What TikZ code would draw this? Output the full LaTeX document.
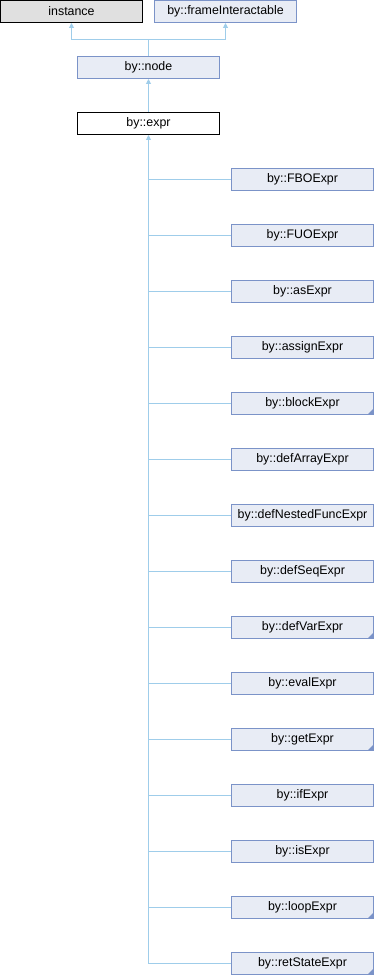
\documentclass[tikz,border=0pt]{standalone}
\usepackage{fontspec}
\setmainfont{Liberation Sans}
\usetikzlibrary{arrows.meta}
\definecolor{clsfill}{HTML}{E8ECF5}
\definecolor{clsdraw}{HTML}{7B93C8}
\definecolor{edgeclr}{HTML}{9FCDEA}
\definecolor{extfill}{HTML}{E0E0E0}
\begin{document}
\begin{tikzpicture}[
    x=1pt, y=-1pt,
    every node/.style={rectangle, minimum width=142pt, minimum height=22pt, inner sep=0pt, line width=1pt, font=\fontsize{12.4}{14}\selectfont},
    cls/.style={draw=clsdraw, fill=clsfill},
    clsmore/.style={cls, path picture={\fill[clsdraw] (path picture bounding box.south east) -- ++(-6pt,0) -- ++(6pt,6pt) -- cycle;}},
    extcls/.style={draw=black, fill=extfill},
    curcls/.style={draw=black, fill=white},
    edge/.style={draw=edgeclr, line width=1pt, -{Triangle[length=5pt,width=5pt]}},
    link/.style={draw=edgeclr, line width=1pt}
]
    \useasboundingbox (0,0) rectangle (375,976);
    \node[extcls] (instance) at (71.5,11.5) {instance};
    \node[cls] (frame) at (225.5,11.5) {by::frameInteractable};
    \node[cls] (node) at (148.5,67.5) {by::node};
    \node[curcls] (expr) at (148.5,123.5) {by::expr};
    \coordinate (split) at (148.5,40);
    \draw[link] (node.north) -- (split);
    \draw[edge] (split) -| (instance.south);
    \draw[edge] (split) -| (frame.south);
    \draw[edge] (expr.north) -- (node.south);
    % derived classes
    \foreach \name/\kind [count=\i from 0] in {FBOExpr/cls, FUOExpr/cls, asExpr/cls, assignExpr/cls,
        blockExpr/clsmore, defArrayExpr/cls, defNestedFuncExpr/cls, defSeqExpr/cls,
        defVarExpr/clsmore, evalExpr/cls, getExpr/clsmore, ifExpr/cls, isExpr/cls,
        loopExpr/clsmore, retStateExpr/clsmore} {
        \node[\kind] (c\i) at (302.5,179.5+56*\i) {by::\name};
        \draw[link] (c\i.west) -- (c\i.west -| expr.south);
    }
    \draw[edge] (c14.west -| expr.south) -- (expr.south);
\end{tikzpicture}
\end{document}
